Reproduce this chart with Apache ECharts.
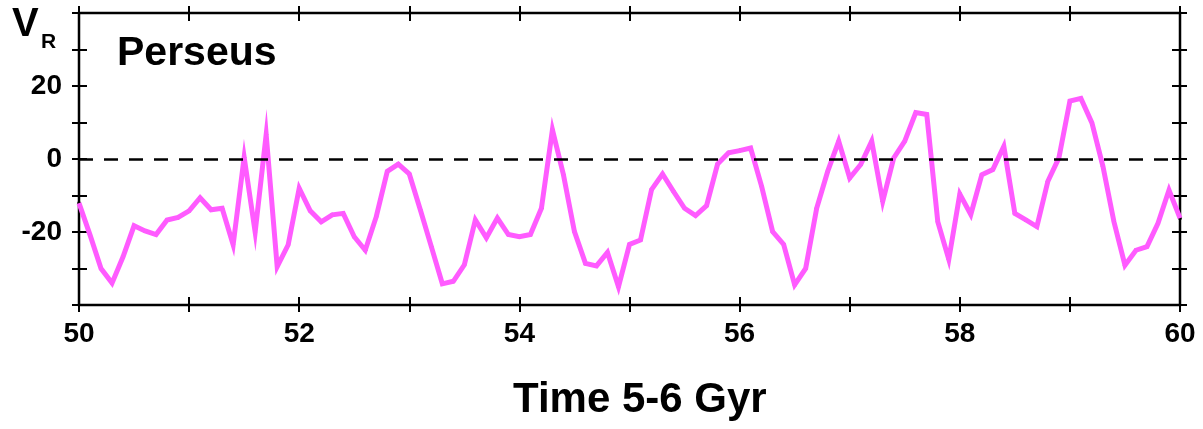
<!DOCTYPE html>
<html>
<head>
<meta charset="utf-8">
<script src="https://cdn.jsdelivr.net/npm/echarts@6/dist/echarts.min.js"></script>
<style>
  html, body { margin: 0; padding: 0; background: #fff; }
  #chart { width: 1203px; height: 429px; }
</style>
</head>
<body>
<div id="chart"></div>
<script>
// time steps (x axis): one point every 0.1
var times = [
  50.0, 50.1, 50.2, 50.3, 50.4, 50.5, 50.6, 50.7, 50.8, 50.9,
  51.0, 51.1, 51.2, 51.3, 51.4, 51.5, 51.6, 51.7, 51.8, 51.9,
  52.0, 52.1, 52.2, 52.3, 52.4, 52.5, 52.6, 52.7, 52.8, 52.9,
  53.0, 53.1, 53.2, 53.3, 53.4, 53.5, 53.6, 53.7, 53.8, 53.9,
  54.0, 54.1, 54.2, 54.3, 54.4, 54.5, 54.6, 54.7, 54.8, 54.9,
  55.0, 55.1, 55.2, 55.3, 55.4, 55.5, 55.6, 55.7, 55.8, 55.9,
  56.0, 56.1, 56.2, 56.3, 56.4, 56.5, 56.6, 56.7, 56.8, 56.9,
  57.0, 57.1, 57.2, 57.3, 57.4, 57.5, 57.6, 57.7, 57.8, 57.9,
  58.0, 58.1, 58.2, 58.3, 58.4, 58.5, 58.6, 58.7, 58.8, 58.9,
  59.0, 59.1, 59.2, 59.3, 59.4, 59.5, 59.6, 59.7, 59.8, 59.9,
  60.0
];

// V_R values (Perseus)
var vr = [
  -12.1, -20.8, -30.0, -34.0, -26.8, -18.3, -19.7, -20.7, -16.7, -16.0,
  -14.2, -10.6, -13.9, -13.5, -23.5,   0.5, -20.0,   6.7, -29.5, -23.5,
   -8.0, -14.2, -17.2, -15.3, -14.9, -21.3, -25.0, -15.8,  -3.4,  -1.4,
   -4.1, -13.9, -24.0, -34.2, -33.5, -29.0, -16.7, -21.6, -16.2, -20.7,
  -21.3, -20.7, -13.5,   8.0,  -4.3, -19.9, -28.6, -29.3, -25.6, -35.0,
  -23.4, -22.2,  -8.4,  -4.1,  -8.9, -13.5, -15.5, -12.8,  -1.4,   1.7,
    2.3,   3.0,  -7.5, -19.9, -23.4, -34.5, -30.0, -13.5,  -3.4,   4.9,
   -5.2,  -1.5,   4.9, -11.6,   0.3,   4.9,  12.7,  12.2, -17.2, -27.5,
   -9.6, -15.2,  -4.3,  -2.9,   3.5, -14.9, -16.7, -18.5,  -6.1,   0.3,
   15.9,  16.6,   9.9,  -2.0, -17.2, -29.1, -25.0, -24.0, -17.6,  -8.5,
  -16.2
];

var xTicks = [50, 52, 54, 56, 58, 60];   // labelled x ticks
var yTicks = [-20, 0, 20];               // labelled y ticks

var pts = times.map(function (t, i) { return [t, vr[i]]; });

var FONT = 'Liberation Sans';
var labelStyle = { fontFamily: FONT, fontWeight: 'bold', fontSize: 28, color: '#000' };

function xAxisDef(pos, inside, withLabel) {
  return {
    type: 'value', position: pos, min: 50, max: 60, interval: 1,
    axisLine: { show: false, onZero: false },
    splitLine: { show: false },
    axisTick: { show: true, inside: inside, length: inside ? 8 : 7, lineStyle: { color: '#000', width: 2 } },
    axisLabel: withLabel ? Object.assign({
      show: true, margin: 15,
      formatter: function (v) { return xTicks.indexOf(v) >= 0 ? String(v) : ''; }
    }, labelStyle) : { show: false }
  };
}
function yAxisDef(pos, inside, withLabel) {
  return {
    type: 'value', position: pos, min: -40, max: 40, interval: 10,
    axisLine: { show: false, onZero: false },
    splitLine: { show: false },
    axisTick: { show: true, inside: inside, length: inside ? 8 : 7, lineStyle: { color: '#000', width: 2 } },
    axisLabel: withLabel ? Object.assign({
      show: true, margin: 17,
      formatter: function (v) { return yTicks.indexOf(v) >= 0 ? String(v) : ''; }
    }, labelStyle) : { show: false }
  };
}

var chart = echarts.init(document.getElementById('chart'), null, { renderer: 'canvas' });
chart.setOption({
  backgroundColor: '#fff',
  animation: false,
  grid: {
    left: 79, right: 23, top: 13, bottom: 124,
    show: true, borderColor: '#000', borderWidth: 2.5, backgroundColor: 'transparent'
  },
  xAxis: [
    xAxisDef('bottom', false, true),
    xAxisDef('bottom', true, false),
    xAxisDef('top', true, false),
    xAxisDef('top', false, false)
  ],
  yAxis: [
    yAxisDef('left', false, true),
    yAxisDef('left', true, false),
    yAxisDef('right', true, false),
    yAxisDef('right', false, false)
  ],
  graphic: [
    { type: 'text', left: 12, top: 5, style: { text: 'V', fontFamily: FONT, fontWeight: 'bold', fontSize: 40, fill: '#000' } },
    { type: 'text', left: 41, top: 32, style: { text: 'R', fontFamily: FONT, fontWeight: 'bold', fontSize: 21, fill: '#000' } },
    { type: 'text', left: 117, top: 33, style: { text: 'Perseus', fontFamily: FONT, fontWeight: 'bold', fontSize: 41, fill: '#000' } },
    { type: 'text', left: 513, top: 379, style: { text: 'Time 5-6 Gyr', fontFamily: FONT, fontWeight: 'bold', fontSize: 42, fill: '#000' } }
  ],
  series: [
    {
      // little black dots under the line at each sample
      type: 'scatter', data: pts, symbolSize: 4, z: 1,
      itemStyle: { color: '#000' }, silent: true
    },
    {
      type: 'line', data: pts, z: 2, showSymbol: false, symbol: 'none',
      lineStyle: { color: '#ff5bff', width: 5, join: 'miter', miterLimit: 20 },
      silent: true,
      markLine: {
        silent: true, symbol: 'none', label: { show: false },
        lineStyle: { color: '#000', width: 2.5, type: [14, 11] },
        data: [{ yAxis: 0 }]
      }
    }
  ]
});
</script>
</body>
</html>
